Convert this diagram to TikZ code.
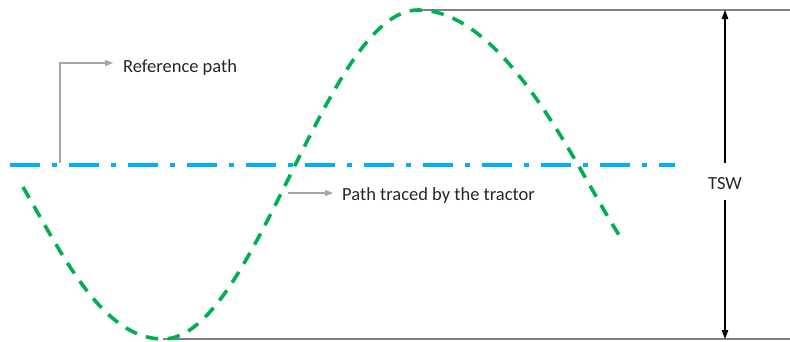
\documentclass[tikz,border=0pt]{standalone}
\usepackage{fontspec}
\setmainfont{Carlito}
\usetikzlibrary{arrows.meta}
\definecolor{refblue}{HTML}{00B0F0}
\definecolor{trgreen}{HTML}{00B050}
\definecolor{callgray}{HTML}{A6A6A6}
\definecolor{limgray}{HTML}{808080}
\definecolor{txt}{HTML}{262626}
\tikzset{
  lbl/.style={font=\fontsize{18.5}{22}\selectfont, text=txt, inner sep=0pt},
  callout/.style={draw=callgray, line width=1.3pt, -{Triangle[length=8pt,width=6pt]}},
  limitline/.style={draw=limgray, line width=1.6pt},
  dimarrow/.style={draw=black, line width=1.1pt, -{Triangle[length=9pt,width=6.5pt]}},
  refline/.style={draw=refblue, line width=4pt, dash pattern=on 30pt off 12pt on 5pt off 12pt},
  tracepath/.style={draw=trgreen, line width=3.6pt, dash pattern=on 12.5pt off 9.5pt},
}
\begin{document}
\begin{tikzpicture}[x=1pt, y=-1pt]
\useasboundingbox (0,0) rectangle (790,341);
% limit lines
\coordinate (peak) at (418,10);
\coordinate (trough) at (163,339);
\coordinate (topR) at (790,10);
\coordinate (botR) at (790,339);
\draw[limitline] (peak) -- (topR);
\draw[limitline] (trough) -- (botR);
% reference path
\coordinate (refL) at (10,164.5);
\coordinate (refR) at (675,164.5);
\draw[refline] (refL) -- (refR);
% tractor path
\coordinate (gs) at (23,187);
\coordinate (ge) at (621,238);
\draw[tracepath] (gs) .. controls (63,256) and (103,339) .. (trough)
  .. controls (255,339) and (326,10) .. (peak)
  .. controls (508,10) and (581,178) .. (ge);
% labels
\node[lbl, anchor=base west] (reflbl) at (123,72) {Reference path};
\node[lbl, anchor=base west] (trlbl) at (342,200) {Path traced by the tractor};
\coordinate (c1) at (60,163);
\coordinate (c1a) at (113,63);
\draw[callout] (c1) |- (c1a);
\coordinate (c2) at (288,193);
\coordinate (c2a) at (333,193);
\draw[callout] (c2) -- (c2a);
% TSW
\node[lbl, anchor=base] (tsw) at (725,189.5) {TSW};
\coordinate (tswU) at (725,163);
\coordinate (tswD) at (725,200);
\coordinate (tswT) at (725,10);
\coordinate (tswB) at (725,339);
\draw[dimarrow] (tswU) -- (tswT);
\draw[dimarrow] (tswD) -- (tswB);
\end{tikzpicture}
\end{document}
